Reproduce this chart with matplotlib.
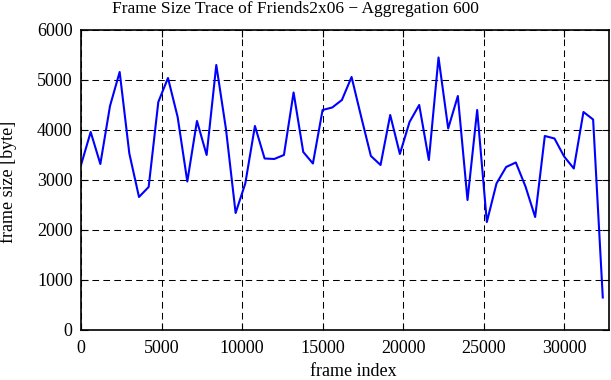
import numpy as np
import matplotlib.pyplot as plt

plt.rcParams['font.family'] = ['Liberation Serif', 'DejaVu Serif']

# aggregated frame sizes, one point per 600 frames
frame_index = np.arange(55) * 600
frame_size = [3300, 3960, 3320, 4480, 5160, 3530, 2660, 2860, 4560, 5040,
              4260, 2970, 4180, 3500, 5300, 4020, 2340, 2930, 4080, 3430,
              3420, 3500, 4750, 3560, 3330, 4400, 4450, 4600, 5060, 4260,
              3480, 3300, 4300, 3520, 4160, 4500, 3400, 5450, 4030, 4680,
              2600, 4400, 2160, 2930, 3260, 3350, 2870, 2260, 3880, 3830,
              3470, 3230, 4360, 4210, 650]

fig = plt.figure(figsize=(6.11, 3.8), dpi=100)
ax = fig.add_axes([0.1326, 0.1316, 0.8641, 0.7895])

ax.plot(frame_index, frame_size, color='#0000ff', linewidth=1.5)

ax.set_xlim(0, 32785)
ax.set_ylim(0, 6000)
ax.set_xticks(np.arange(0, 30001, 5000))
ax.set_yticks(np.arange(0, 6001, 1000))
ax.grid(True, color='black', linestyle=(0, (6.4, 4.1)), linewidth=0.75)
ax.tick_params(direction='in', top=True, right=True, labelsize=13, length=5)
ax.tick_params(axis='x', pad=7)
ax.tick_params(axis='y', pad=6)
for s in ax.spines.values():
    s.set_linewidth(1.2)

fig.text(0.5786, 0.0105, 'frame index', fontsize=13, ha='center', va='baseline')
fig.text(0.014, 0.521, 'frame size [byte]', fontsize=13, ha='center', va='center',
         rotation=90)
fig.text(0.4828, 0.967, 'Frame Size Trace of Friends2x06 \u2212 Aggregation 600',
         fontsize=12.5, ha='center', va='baseline')

fig.savefig('out.png', dpi=100)
